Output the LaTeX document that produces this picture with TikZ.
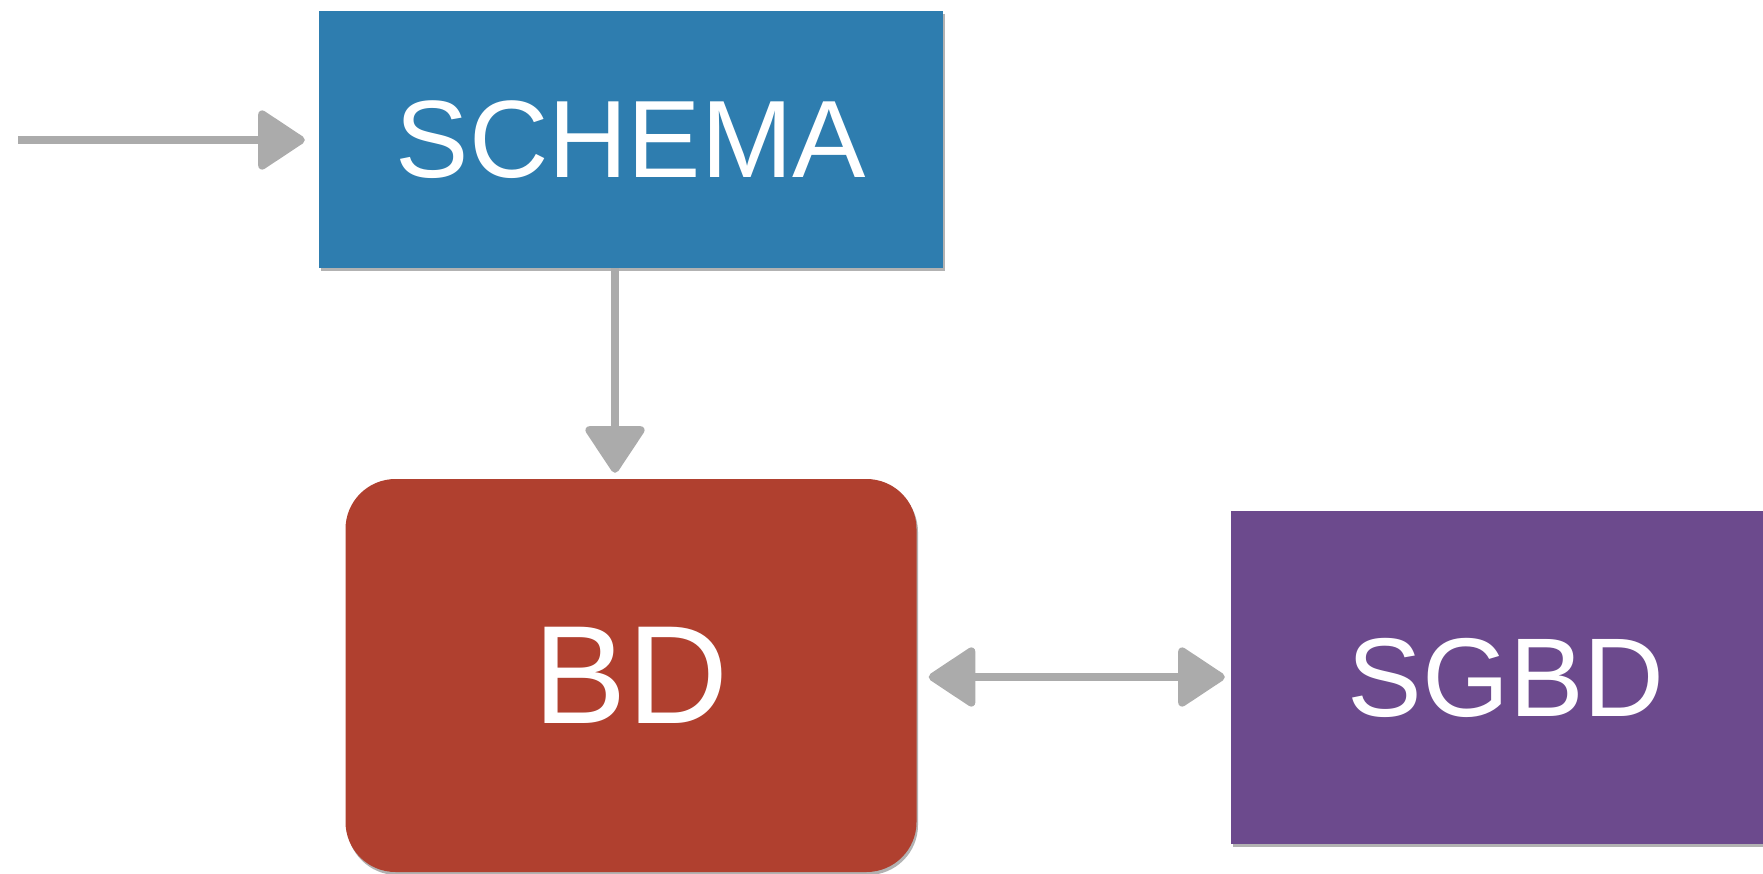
\documentclass[tikz,border=0pt]{standalone}
\usepackage{fontspec}
\newfontfamily\boxfont{Liberation Sans}
\usetikzlibrary{arrows.meta,shadows}
\definecolor{schemablue}{HTML}{2E7DAF}
\definecolor{bdred}{HTML}{B0402F}
\definecolor{sgbdpurple}{HTML}{6C4A8D}
\definecolor{arrowgrey}{HTML}{ABABAB}
\begin{document}
\begin{tikzpicture}[x=1pt,y=-1pt,
  card/.style={inner sep=0pt, text=white, font=\boxfont\fontsize{110}{130}\selectfont,
    drop shadow={shadow xshift=1.5pt, shadow yshift=-3pt, fill=black, opacity=0.3}},
  headtip/.tip={Triangle[length=50pt,width=64pt,round]},
  link/.style={draw=arrowgrey, line width=8pt, -headtip},
  both/.style={draw=arrowgrey, line width=8pt, headtip-headtip}]
\useasboundingbox (0,0) rectangle (1763,874);
\fill[white] (0,0) rectangle (1763,874);
% boxes
\node[card, fill=schemablue, minimum width=624pt, minimum height=257pt] (schema) at (631,139.5)
  {\raisebox{-4pt}{SCHEMA}};
\node[card, fill=bdred, rounded corners=50pt, minimum width=571pt, minimum height=393pt,
      font=\boxfont\fontsize{140}{160}\selectfont] (bd) at (631,675.5) {\raisebox{-3pt}{BD}};
\node[card, fill=sgbdpurple, minimum width=550pt, minimum height=333pt,
      font=\boxfont\fontsize{112}{130}\selectfont] (sgbd) at (1506,677.5) {\raisebox{-4pt}{SGBD}};
% connectors
\coordinate (in) at (18,140);
\coordinate (drop) at (615,0);
\coordinate (mid) at (0,677);
\draw[link, shorten >=14pt] (in) -- (schema.west |- in);
\draw[link, shorten >=6pt] (drop |- schema.south) -- (drop |- bd.north);
\draw[both, shorten <=12pt, shorten >=6pt] (bd.east |- mid) -- (sgbd.west |- mid);
\end{tikzpicture}
\end{document}
